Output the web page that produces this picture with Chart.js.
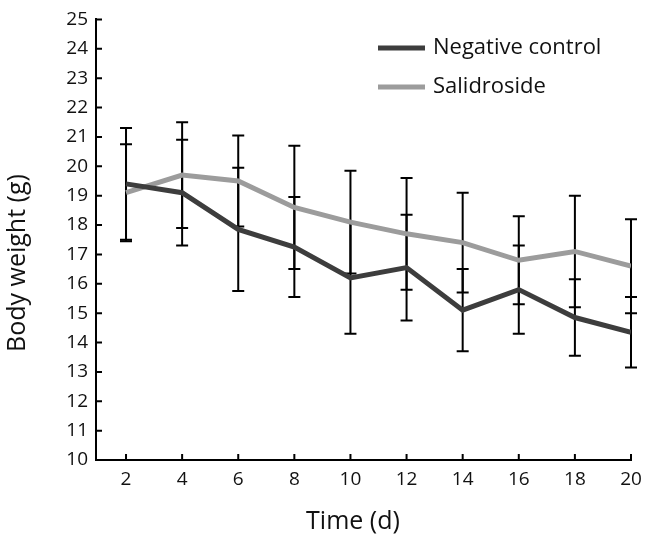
<!DOCTYPE html>
<html>
<head>
<meta charset="utf-8">
<script src="https://cdn.jsdelivr.net/npm/chart.js@4/dist/chart.umd.min.js"></script>
<style>
  body { margin: 0; background: #fff; }
  #wrap { width: 656px; height: 555px; }
</style>
</head>
<body>
<div id="wrap"><canvas id="weights" width="656" height="555"></canvas></div>
<script>
// values (mean and SD per time point)
const days = [2, 4, 6, 8, 10, 12, 14, 16, 18, 20];
const controlMean = [19.4, 19.1, 17.85, 17.25, 16.2, 16.55, 15.1, 15.8, 14.85, 14.35];
const controlSD = [1.9, 1.8, 2.1, 1.7, 1.9, 1.8, 1.4, 1.5, 1.3, 1.2];
const salidMean = [19.1, 19.7, 19.5, 18.6, 18.1, 17.7, 17.4, 16.8, 17.1, 16.6];
const salidSD = [1.65, 1.8, 1.55, 2.1, 1.75, 1.9, 1.7, 1.5, 1.9, 1.6];
const xTicks = [2, 4, 6, 8, 10, 12, 14, 16, 18, 20];
const yTicks = [10, 11, 12, 13, 14, 15, 16, 17, 18, 19, 20, 21, 22, 23, 24, 25];
const xTitle = 'Time (d)';
const yTitle = 'Body weight (g)';

const font = 'Open Sans';

// error bars go under the lines
const errorBars = {
  id: 'errorBars',
  beforeDatasetsDraw(chart) {
    const { ctx, scales: { x, y } } = chart;
    ctx.save();
    ctx.strokeStyle = '#000';
    ctx.lineWidth = 2;
    chart.data.datasets.forEach(ds => {
      ds.data.forEach((pt, i) => {
        const px = x.getPixelForValue(pt.x);
        const top = y.getPixelForValue(pt.y + ds.sd[i]);
        const bot = y.getPixelForValue(pt.y - ds.sd[i]);
        ctx.beginPath();
        ctx.moveTo(px, top); ctx.lineTo(px, bot);
        ctx.moveTo(px - 6, top); ctx.lineTo(px + 6, top);
        ctx.moveTo(px - 6, bot); ctx.lineTo(px + 6, bot);
        ctx.stroke();
      });
    });
    ctx.restore();
  }
};

// inward tick marks, axis titles and the legend
const decor = {
  id: 'decor',
  afterDraw(chart) {
    const { ctx, scales: { x, y } } = chart;
    ctx.save();
    ctx.strokeStyle = '#000';
    ctx.lineWidth = 2;
    ctx.beginPath();
    yTicks.forEach(v => {
      const py = y.getPixelForValue(v);
      ctx.moveTo(x.left, py); ctx.lineTo(x.left + 6, py);
    });
    xTicks.forEach(v => {
      const px = x.getPixelForValue(v);
      ctx.moveTo(px, y.bottom); ctx.lineTo(px, y.bottom - 6);
    });
    ctx.stroke();

    ctx.fillStyle = '#111';
    ctx.textBaseline = 'middle';
    ctx.textAlign = 'center';
    ctx.font = '25px "' + font + '"';
    ctx.fillText(xTitle, 353, 522);
    ctx.save();
    ctx.translate(18, 263);
    ctx.rotate(-Math.PI / 2);
    ctx.fillText(yTitle, 0, 0);
    ctx.restore();

    ctx.textAlign = 'left';
    ctx.font = '22px "' + font + '"';
    chart.data.datasets.forEach((ds, i) => {
      const ly = 48 + i * 39;
      ctx.strokeStyle = ds.borderColor;
      ctx.lineWidth = 5;
      ctx.beginPath();
      ctx.moveTo(378, ly); ctx.lineTo(425, ly);
      ctx.stroke();
      ctx.fillText(ds.label, 433, ly);
    });
    ctx.restore();
  }
};

new Chart(document.getElementById('weights'), {
  type: 'line',
  data: {
    datasets: [
      {
        label: 'Negative control',
        data: days.map((d, i) => ({ x: d, y: controlMean[i] })),
        sd: controlSD,
        borderColor: '#3d3d3d',
        borderWidth: 5,
        pointRadius: 0,
        tension: 0
      },
      {
        label: 'Salidroside',
        data: days.map((d, i) => ({ x: d, y: salidMean[i] })),
        sd: salidSD,
        borderColor: '#9c9c9c',
        borderWidth: 5,
        pointRadius: 0,
        tension: 0
      }
    ]
  },
  options: {
    responsive: false,
    animation: false,
    layout: { padding: { top: 15, right: 25, left: 0, bottom: 0 } },
    plugins: { legend: { display: false }, tooltip: { enabled: false } },
    scales: {
      x: {
        type: 'linear',
        min: 0.93,
        max: 20,
        afterBuildTicks: s => { s.ticks = xTicks.map(v => ({ value: v })); },
        afterFit: s => { s.height = 95; },
        grid: { display: false, drawTicks: false },
        border: { display: true, color: '#000', width: 2 },
        ticks: { color: '#111', padding: 8, font: { family: font, size: 19 } }
      },
      y: {
        min: 10,
        max: 25,
        afterBuildTicks: s => { s.ticks = yTicks.map(v => ({ value: v })); },
        afterFit: s => { s.width = 96; },
        grid: { display: false, drawTicks: false },
        border: { display: true, color: '#000', width: 2 },
        ticks: { color: '#111', padding: 8, font: { family: font, size: 19 } }
      }
    }
  },
  plugins: [errorBars, decor]
});
</script>
</body>
</html>
